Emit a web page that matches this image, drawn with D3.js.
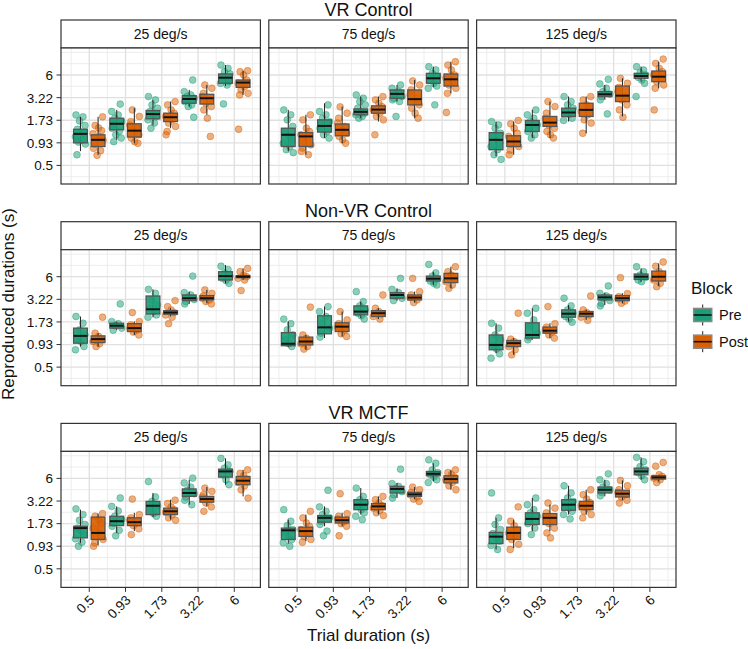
<!DOCTYPE html>
<html><head><meta charset="utf-8">
<script src="https://cdn.jsdelivr.net/npm/d3@7"></script>
<style>
body{margin:0;background:#fff}
text{font-family:"Liberation Sans",Arial,Helvetica,sans-serif;fill:#111}
</style>
</head><body>
<svg id="chart" width="748" height="649"></svg>
<script>
// ---------- categories ----------
const groups = ["VR Control", "Non-VR Control", "VR MCTF"];
const speeds = ["25 deg/s", "75 deg/s", "125 deg/s"];
const durations = ["0.5", "0.93", "1.73", "3.22", "6"];
const blocks = ["Pre", "Post"];
const yTicks = [0.5, 0.93, 1.73, 3.22, 6];
const blockColors = ["#1b9e77", "#d95f02"];

// ---------- box stats: [lower whisker, Q1, median, Q3, upper whisker]; order: dur1 Pre, dur1 Post, dur2 Pre, ...
const boxVRControl25 = [
  [0.74,0.93,1.19,1.35,1.9],[0.67,0.84,1.01,1.16,1.9],
  [1.01,1.33,1.57,1.83,2.3],[0.92,1.09,1.3,1.57,2.41],
  [1.52,1.8,2.05,2.26,3.03],[1.39,1.67,1.88,2.1,2.89],
  [2.52,2.76,3.1,3.4,3.98],[2.01,2.7,3.17,3.53,4.56],
  [4.43,4.78,5.57,6.17,7.89],[3.47,4.27,4.87,5.23,6.75]];
const ptsVRControl25 = [
  [2.0,1.9,1.7,1.5,1.35,1.25,1.2,1.1,1.0,0.95,0.9,0.67],[1.9,1.5,1.4,1.3,1.2,1.1,1.05,1.0,0.9,0.8,0.75,0.66],
  [2.7,2.2,2.0,1.83,1.67,1.52,1.39,1.27,1.16,1.06,0.96],[2.3,1.92,1.67,1.52,1.39,1.27,1.16,1.06,0.96,0.92],
  [3.32,3.03,2.64,2.41,2.2,2.01,1.92,1.75,1.6,1.39],[2.89,2.64,2.3,2.1,1.92,1.75,1.6,1.46,1.27,1.16],
  [5.23,3.8,3.47,3.32,3.17,3.03,2.89,2.64,2.52,1.88],[4.56,4.17,3.63,3.32,3.03,2.76,2.52,2.3,1.83,1.11],
  [7.89,7.2,6.57,6.17,5.73,5.33,5.0,4.78,4.56,2.71],[6.75,6.57,6.0,5.23,4.78,4.36,3.98,3.63,3.47,1.35]];

const boxVRControl75 = [
  [0.735,0.84,1.16,1.39,2.3],[0.67,0.84,1.11,1.23,2.01],
  [1.06,1.25,1.48,1.75,2.76],[0.92,1.13,1.33,1.56,2.52],
  [1.83,2.01,2.18,2.36,3.32],[1.67,2.1,2.32,2.57,3.32],
  [2.89,3.17,3.57,3.98,4.56],[1.83,2.64,3.09,3.98,5.23],
  [4.27,4.78,5.48,6.28,7.54],[3.63,4.43,5.33,6.17,8.64]];
const ptsVRControl75 = [
  [2.3,2.01,1.75,1.46,1.27,1.11,1.01,0.92,0.84,0.77,0.71],[2.01,1.75,1.39,1.27,1.16,1.06,0.965,0.88,0.805,0.735,0.67],
  [2.64,2.2,2.01,1.83,1.67,1.52,1.39,1.27,1.16,1.06],[2.5,2.1,1.83,1.6,1.46,1.33,1.21,1.11,1.01,0.92],
  [3.47,3.17,2.89,2.64,2.41,2.2,2.1,2.01,1.92,1.83],[3.32,3.03,2.76,2.52,2.3,2.1,1.92,1.75,1.16],
  [4.56,4.17,3.8,3.47,3.32,3.17,3.03,2.89,1.92],[5.1,4.56,3.98,3.47,3.17,2.89,2.64,2.41,2.1,1.83],
  [7.54,6.88,6.28,5.73,5.23,4.78,4.43,4.17,2.64],[8.64,7.89,6.88,6.0,5.48,5.0,4.56,4.17,3.63,2.14]];

const boxVRControl125 = [
  [0.64,0.77,1.01,1.23,1.67],[0.67,0.84,0.965,1.13,1.67],
  [1.06,1.27,1.52,1.72,2.3],[1.06,1.46,1.62,1.92,2.89],
  [1.67,1.92,2.14,2.41,3.32],[1.21,1.92,2.3,2.76,3.32],
  [3.03,3.32,3.53,3.8,4.56],[1.92,2.89,3.4,4.43,5.48],
  [5.0,5.48,5.84,6.28,7.54],[4.17,5.0,5.73,6.69,8.64]];
const ptsVRControl125 = [
  [1.67,1.52,1.39,1.21,1.11,1.01,0.92,0.84,0.77,0.67,0.59],[1.72,1.57,1.39,1.21,1.11,1.01,0.92,0.84,0.76,0.67],
  [2.3,2.01,1.83,1.67,1.52,1.39,1.27,1.16,1.06],[2.89,2.52,2.1,1.83,1.67,1.52,1.39,1.27,1.16,1.06],
  [3.32,2.89,2.64,2.41,2.2,2.01,1.83,1.72],[3.32,3.03,2.64,2.41,2.2,2.01,1.75,1.6,1.21],
  [5.33,4.7,4.17,3.8,3.55,3.32,3.03,2.06],[5.48,4.78,4.27,3.8,3.32,3.03,2.64,2.3,1.88],
  [7.54,6.88,6.4,6.0,5.63,5.23,4.78,3.32],[9.3,8.26,7.2,6.57,6.0,5.48,5.0,4.56,4.17,2.3]];

const boxNonVR25 = [
  [0.88,0.965,1.18,1.46,2.01],[0.88,0.98,1.08,1.18,1.27],
  [1.39,1.46,1.56,1.67,1.75],[1.21,1.33,1.46,1.65,1.75],
  [1.97,2.16,2.45,3.53,4.24],[2.01,2.14,2.24,2.36,2.52],
  [2.84,3.11,3.32,3.63,3.98],[2.89,3.17,3.32,3.57,4.17],
  [5.0,5.48,6.1,6.88,8.26],[5.48,5.84,6.0,6.17,7.54]];
const ptsNonVR25 = [
  [2.01,1.67,1.39,1.21,1.11,1.01,0.88,0.805],[1.97,1.27,1.16,1.08,1.01,0.95,0.88],
  [2.84,1.75,1.65,1.56,1.46,1.38],[2.24,1.75,1.6,1.46,1.39,1.31,1.21],
  [4.24,3.8,3.17,2.76,2.52,2.3,2.1,1.97],[3.11,2.64,2.41,2.24,2.1,1.97,1.65],
  [6.1,3.87,3.63,3.38,3.21,3.03,2.84],[4.17,3.8,3.53,3.32,3.17,3.03,2.84],
  [8.0,7.3,6.67,6.1,5.73,5.4,5.0],[7.54,6.88,6.28,6.0,5.73,5.48,4.1]];

const boxNonVR75 = [
  [0.87,0.9,0.95,1.29,1.75],[0.805,0.92,1.01,1.14,1.21],
  [1.11,1.25,1.49,2.05,2.64],[1.16,1.33,1.52,1.69,2.3],
  [1.92,2.1,2.3,2.69,3.03],[1.87,2.01,2.2,2.36,2.52],
  [3.11,3.32,3.63,3.87,4.36],[2.95,3.17,3.38,3.63,3.98],
  [4.78,5.33,5.68,6.1,6.88],[4.36,5.1,5.73,6.57,7.89]];
const ptsNonVR75 = [
  [1.87,1.65,1.39,1.21,1.06,0.95,0.88],[2.6,1.21,1.11,1.01,0.95,0.88,0.82],
  [2.64,2.3,2.01,1.67,1.46,1.27,1.14],[2.3,1.83,1.65,1.5,1.38,1.25,1.16],
  [3.98,3.03,2.69,2.41,2.2,2.05,1.87],[3.63,2.52,2.3,2.16,2.01,1.87],
  [5.73,4.24,3.87,3.53,3.32,3.11],[5.73,3.98,3.63,3.38,3.17,2.95],
  [8.4,6.67,6.1,5.68,5.33,5.0,4.78],[7.89,6.88,6.28,5.73,5.23,4.78,4.36]];

const boxNonVR125 = [
  [0.735,0.805,0.92,1.21,1.67],[0.7,0.88,0.965,1.04,1.11],
  [1.06,1.11,1.21,1.69,2.52],[1.11,1.27,1.36,1.5,1.67],
  [1.75,1.97,2.17,2.41,2.76],[1.83,2.01,2.17,2.3,2.41],
  [2.76,3.17,3.4,3.63,3.87],[2.89,3.11,3.32,3.57,3.8],
  [5.23,5.57,6.0,6.46,7.54],[4.65,5.33,6.0,7.0,8.64]];
const ptsNonVR125 = [
  [1.67,1.46,1.21,1.06,0.92,0.82,0.72,0.64],[2.2,1.08,1.01,0.95,0.88,0.805,0.7],
  [2.52,2.2,1.83,1.52,1.27,1.14,1.06],[2.64,1.65,1.5,1.39,1.31,1.21,1.11],
  [3.32,2.69,2.41,2.2,2.01,1.87,1.72],[3.53,2.41,2.24,2.1,1.97,1.81],
  [4.65,3.8,3.53,3.32,3.11,2.89,2.69],[5.84,3.77,3.47,3.26,3.07,2.89],
  [7.89,6.88,6.28,5.89,5.48,5.23],[9.0,8.0,6.88,6.1,5.48,5.0,4.56]];

const boxMCTF25 = [
  [1.02,1.17,1.53,1.61,2.54],[0.95,1.12,1.34,2.07,2.28],
  [1.34,1.64,1.85,2.12,2.78],[1.41,1.64,1.8,2.03,2.33],
  [2.07,2.22,2.83,3.19,4.02],[1.93,2.22,2.43,2.65,3.34],
  [2.91,3.66,4.02,4.49,5.78],[2.78,3.12,3.4,3.66,4.73],
  [5.04,6.22,7.27,7.74,10.4],[3.66,5.04,5.63,6.33,7.59]];
const ptsMCTF25 = [
  [2.6,2.22,1.9,1.69,1.53,1.41,1.28,1.14,1.04,0.93],[2.28,2.12,1.93,1.73,1.53,1.36,1.22,1.12,1.02,0.93],
  [3.5,2.78,2.45,2.12,1.93,1.76,1.61,1.44,1.24],[3.4,2.22,2.03,1.9,1.76,1.64,1.5,1.28],
  [5.5,3.6,3.19,2.83,2.54,2.28,2.12],[3.3,3.01,2.74,2.54,2.37,2.2,2.03,1.9],
  [6.05,5.3,4.73,4.33,3.94,3.6,3.29,2.91],[4.6,4.2,3.83,3.6,3.34,3.05,2.74,2.43],
  [10.4,8.7,7.95,7.27,6.63,5.78,5.04],[7.59,6.9,6.45,5.89,5.39,4.9,4.39,3.49]];

const boxMCTF75 = [
  [1.0,1.12,1.44,1.53,1.93],[1.07,1.22,1.41,1.57,2.22],
  [1.61,1.8,2.03,2.16,2.78],[1.61,1.76,1.9,2.07,2.33],
  [2.22,2.54,2.91,3.34,4.6],[2.22,2.54,2.78,3.01,3.66],
  [3.5,4.02,4.49,4.82,5.3],[3.4,3.66,3.87,4.09,4.73],
  [5.52,6.45,6.81,7.27,9.1],[4.39,5.3,5.89,6.45,7.59]];
const ptsMCTF75 = [
  [2.54,1.85,1.64,1.47,1.34,1.22,1.12,1.02,0.93],[2.43,2.03,1.76,1.61,1.47,1.34,1.22,1.12,1.04],
  [4.33,2.74,2.43,2.22,2.03,1.85,1.69,1.41,1.24],[3.94,2.28,2.12,1.97,1.85,1.73,1.61,1.24],
  [4.6,3.66,3.34,3.05,2.78,2.54,2.33,2.12,1.93],[3.66,3.34,3.05,2.83,2.65,2.5,2.33,2.16],
  [7.74,5.2,4.82,4.49,4.17,3.83,3.5],[4.73,4.4,4.09,3.83,3.6,3.4,3.19],
  [10.0,9.1,7.59,7.05,6.63,6.22,5.78,5.35],[7.59,7.05,6.63,6.22,5.78,5.35,4.9,4.39]];

const boxMCTF125 = [
  [0.85,1.0,1.21,1.36,2.03],[0.88,1.12,1.34,1.57,1.93],
  [1.41,1.69,1.97,2.33,3.5],[1.41,1.69,2.03,2.28,2.91],
  [2.22,2.5,2.91,3.34,4.9],[2.22,2.54,2.83,3.19,4.39],
  [3.66,4.02,4.39,4.73,5.78],[3.29,3.6,3.94,4.33,5.68],
  [5.78,6.63,7.27,7.95,10.7],[5.52,5.89,6.17,6.45,6.63]];
const ptsMCTF125 = [
  [4.02,2.03,1.69,1.47,1.32,1.17,1.07,0.95,0.85],[2.74,1.85,1.64,1.47,1.34,1.22,1.12,0.98,0.85],
  [3.5,2.91,2.54,2.33,2.12,1.93,1.73,1.53,1.28],[3.05,2.65,2.33,2.07,1.9,1.73,1.53,1.34,1.17],
  [4.9,4.02,3.5,3.19,2.91,2.65,2.43,2.22,1.97],[4.39,3.83,3.4,3.1,2.83,2.65,2.43,2.22,2.03],
  [6.81,5.78,5.2,4.73,4.39,4.09,3.72],[5.68,4.9,4.39,4.09,3.83,3.6,3.29,3.05],
  [10.7,9.5,8.3,7.59,7.05,6.45,5.78],[9.3,8.4,6.63,6.33,6.05,5.78,5.35]];

const panelBoxes = [[boxVRControl25, boxVRControl75, boxVRControl125],
                    [boxNonVR25, boxNonVR75, boxNonVR125],
                    [boxMCTF25, boxMCTF75, boxMCTF125]];
const panelPoints = [[ptsVRControl25, ptsVRControl75, ptsVRControl125],
                     [ptsNonVR25, ptsNonVR75, ptsNonVR125],
                     [ptsMCTF25, ptsMCTF75, ptsMCTF125]];

// ---------- layout ----------
const svg = d3.select("#chart");
svg.append("rect").attr("width", 748).attr("height", 649).attr("fill", "#fff");
const panelLefts = [61, 268.8, 476.6], panelW = 199.4;
const rowTop0 = 20, rowStep = 201.7, stripH = 28, panelH = 136;
const jitterPx = [-4.5, 2.5, -1, 4.5, -3, 0.5, 3.5, -5, 1.5, -2, 5, -3.5];
const dodge = 0.243, boxHalf = 0.19;

const x = d3.scaleLinear().domain([0.22, 5.72]).range([0, panelW]);
const y = d3.scaleLog().domain([0.30, 12.6]).range([panelH, 0]);

// gridlines
const lt = yTicks.map(Math.log);
const step = (lt[lt.length - 1] - lt[0]) / (lt.length - 1);
const yMinor = [];
for (let i = -1; i <= lt.length; i++) yMinor.push(Math.exp(lt[0] + (i + 0.5) * step));
yMinor.push(Math.exp(lt[0] + lt.length * step));
const yMinorIn = yMinor.filter(v => v > y.domain()[0] && v < y.domain()[1]);
const xMajor = durations.map((d, i) => i + 1);
const xMinor = d3.range(0.5, 6, 1).filter(v => v > x.domain()[0] && v < x.domain()[1]);

groups.forEach((g, r) => {
  const stripTop = rowTop0 + r * rowStep;
  const panelTop = stripTop + stripH;
  svg.append("text").attr("x", 368.5).attr("y", stripTop - 4.5)
    .attr("text-anchor", "middle").attr("font-size", "18px").attr("fill", "#000").text(g);

  speeds.forEach((s, c) => {
    const left = panelLefts[c];
    // strip
    svg.append("rect").attr("x", left).attr("y", stripTop).attr("width", panelW).attr("height", stripH)
      .attr("fill", "#fff").attr("stroke", "#333").attr("stroke-width", 1.2);
    svg.append("text").attr("x", left + panelW / 2).attr("y", stripTop + 18.5)
      .attr("text-anchor", "middle").attr("font-size", "14px").text(s);

    const p = svg.append("g").attr("transform", `translate(${left},${panelTop})`);
    p.append("rect").attr("width", panelW).attr("height", panelH).attr("fill", "#fff");
    // grid
    p.selectAll(".ymin").data(yMinorIn).join("line")
      .attr("x1", 0).attr("x2", panelW).attr("y1", d => y(d)).attr("y2", d => y(d))
      .attr("stroke", "#ebebeb").attr("stroke-width", 0.9);
    p.selectAll(".xmin").data(xMinor).join("line")
      .attr("y1", 0).attr("y2", panelH).attr("x1", d => x(d)).attr("x2", d => x(d))
      .attr("stroke", "#ebebeb").attr("stroke-width", 0.9);
    p.selectAll(".ymaj").data(yTicks).join("line")
      .attr("x1", 0).attr("x2", panelW).attr("y1", d => y(d)).attr("y2", d => y(d))
      .attr("stroke", "#e0e0e0").attr("stroke-width", 1.3);
    p.selectAll(".xmaj").data(xMajor).join("line")
      .attr("y1", 0).attr("y2", panelH).attr("x1", d => x(d)).attr("x2", d => x(d))
      .attr("stroke", "#e0e0e0").attr("stroke-width", 1.3);

    const boxes = panelBoxes[r][c];
    const pts = panelPoints[r][c];

    // jittered points
    durations.forEach((d, di) => {
      blocks.forEach((b, bi) => {
        const k = di * 2 + bi;
        const cx = x(di + 1 + (bi === 0 ? -dodge : dodge));
        p.selectAll(null).data(pts[k]).join("circle")
          .attr("cx", (v, i) => cx + jitterPx[(i + k * 3) % jitterPx.length])
          .attr("cy", v => y(v)).attr("r", 3.4)
          .attr("fill", blockColors[bi]).attr("fill-opacity", 0.5)
          .attr("stroke", blockColors[bi]).attr("stroke-opacity", 0.55).attr("stroke-width", 0.8);
      });
    });

    // boxes
    durations.forEach((d, di) => {
      blocks.forEach((b, bi) => {
        const st = boxes[di * 2 + bi];
        const xc = di + 1 + (bi === 0 ? -dodge : dodge);
        const g2 = p.append("g");
        g2.append("line").attr("x1", x(xc)).attr("x2", x(xc)).attr("y1", y(st[0])).attr("y2", y(st[4]))
          .attr("stroke", "#222").attr("stroke-width", 1);
        g2.append("rect").attr("x", x(xc - boxHalf)).attr("width", x(xc + boxHalf) - x(xc - boxHalf))
          .attr("y", y(st[3])).attr("height", y(st[1]) - y(st[3]))
          .attr("fill", blockColors[bi]).attr("fill-opacity", 0.92)
          .attr("stroke", "#555").attr("stroke-width", 1.3);
        g2.append("line").attr("x1", x(xc - boxHalf)).attr("x2", x(xc + boxHalf))
          .attr("y1", y(st[2])).attr("y2", y(st[2]))
          .attr("stroke", "#111").attr("stroke-width", 2);
      });
    });

    // border
    p.append("rect").attr("width", panelW).attr("height", panelH)
      .attr("fill", "none").attr("stroke", "#333").attr("stroke-width", 1.2);

    // y axis (first column)
    if (c === 0) {
      p.selectAll(".yt").data(yTicks).join("line")
        .attr("x1", -4.5).attr("x2", 0).attr("y1", d => y(d)).attr("y2", d => y(d))
        .attr("stroke", "#333").attr("stroke-width", 1);
      p.selectAll(".yl").data(yTicks).join("text")
        .attr("x", -8).attr("y", d => y(d)).attr("dy", "0.36em")
        .attr("text-anchor", "end").attr("font-size", "13.5px").attr("fill", "#222")
        .text(d => String(d));
    }
    // x axis (last row)
    if (r === groups.length - 1) {
      p.selectAll(".xt").data(xMajor).join("line")
        .attr("x1", d => x(d)).attr("x2", d => x(d)).attr("y1", panelH).attr("y2", panelH + 4.5)
        .attr("stroke", "#333").attr("stroke-width", 1);
      p.selectAll(".xl").data(durations).join("text")
        .attr("transform", (d, i) => `translate(${x(i + 1) + 6},${panelH + 13.5}) rotate(-45)`)
        .attr("text-anchor", "end").attr("font-size", "13.5px").attr("fill", "#222")
        .text(d => d);
    }
  });
});

// axis titles
svg.append("text").attr("x", 368.5).attr("y", 641).attr("text-anchor", "middle")
  .attr("font-size", "17px").attr("fill", "#000").text("Trial duration (s)");
svg.append("text").attr("transform", "translate(14,304) rotate(-90)").attr("text-anchor", "middle")
  .attr("font-size", "17px").attr("fill", "#000").text("Reproduced durations (s)");

// legend
const lg = svg.append("g");
lg.append("text").attr("x", 691).attr("y", 294).attr("font-size", "17px").attr("fill", "#000").text("Block");
blocks.forEach((b, i) => {
  const cy = 315 + i * 26.7;
  lg.append("line").attr("x1", 702.7).attr("x2", 702.7).attr("y1", cy - 10.5).attr("y2", cy + 10.5)
    .attr("stroke", "#222").attr("stroke-width", 1);
  lg.append("rect").attr("x", 693.7).attr("y", cy - 6.5).attr("width", 18).attr("height", 13)
    .attr("fill", blockColors[i]).attr("stroke", "#888").attr("stroke-width", 1.6);
  lg.append("line").attr("x1", 693.7).attr("x2", 711.7).attr("y1", cy).attr("y2", cy)
    .attr("stroke", "#111").attr("stroke-width", 1.6);
  lg.append("text").attr("x", 719).attr("y", cy + 5).attr("font-size", "14.5px").text(b);
});
</script>
</body></html>
